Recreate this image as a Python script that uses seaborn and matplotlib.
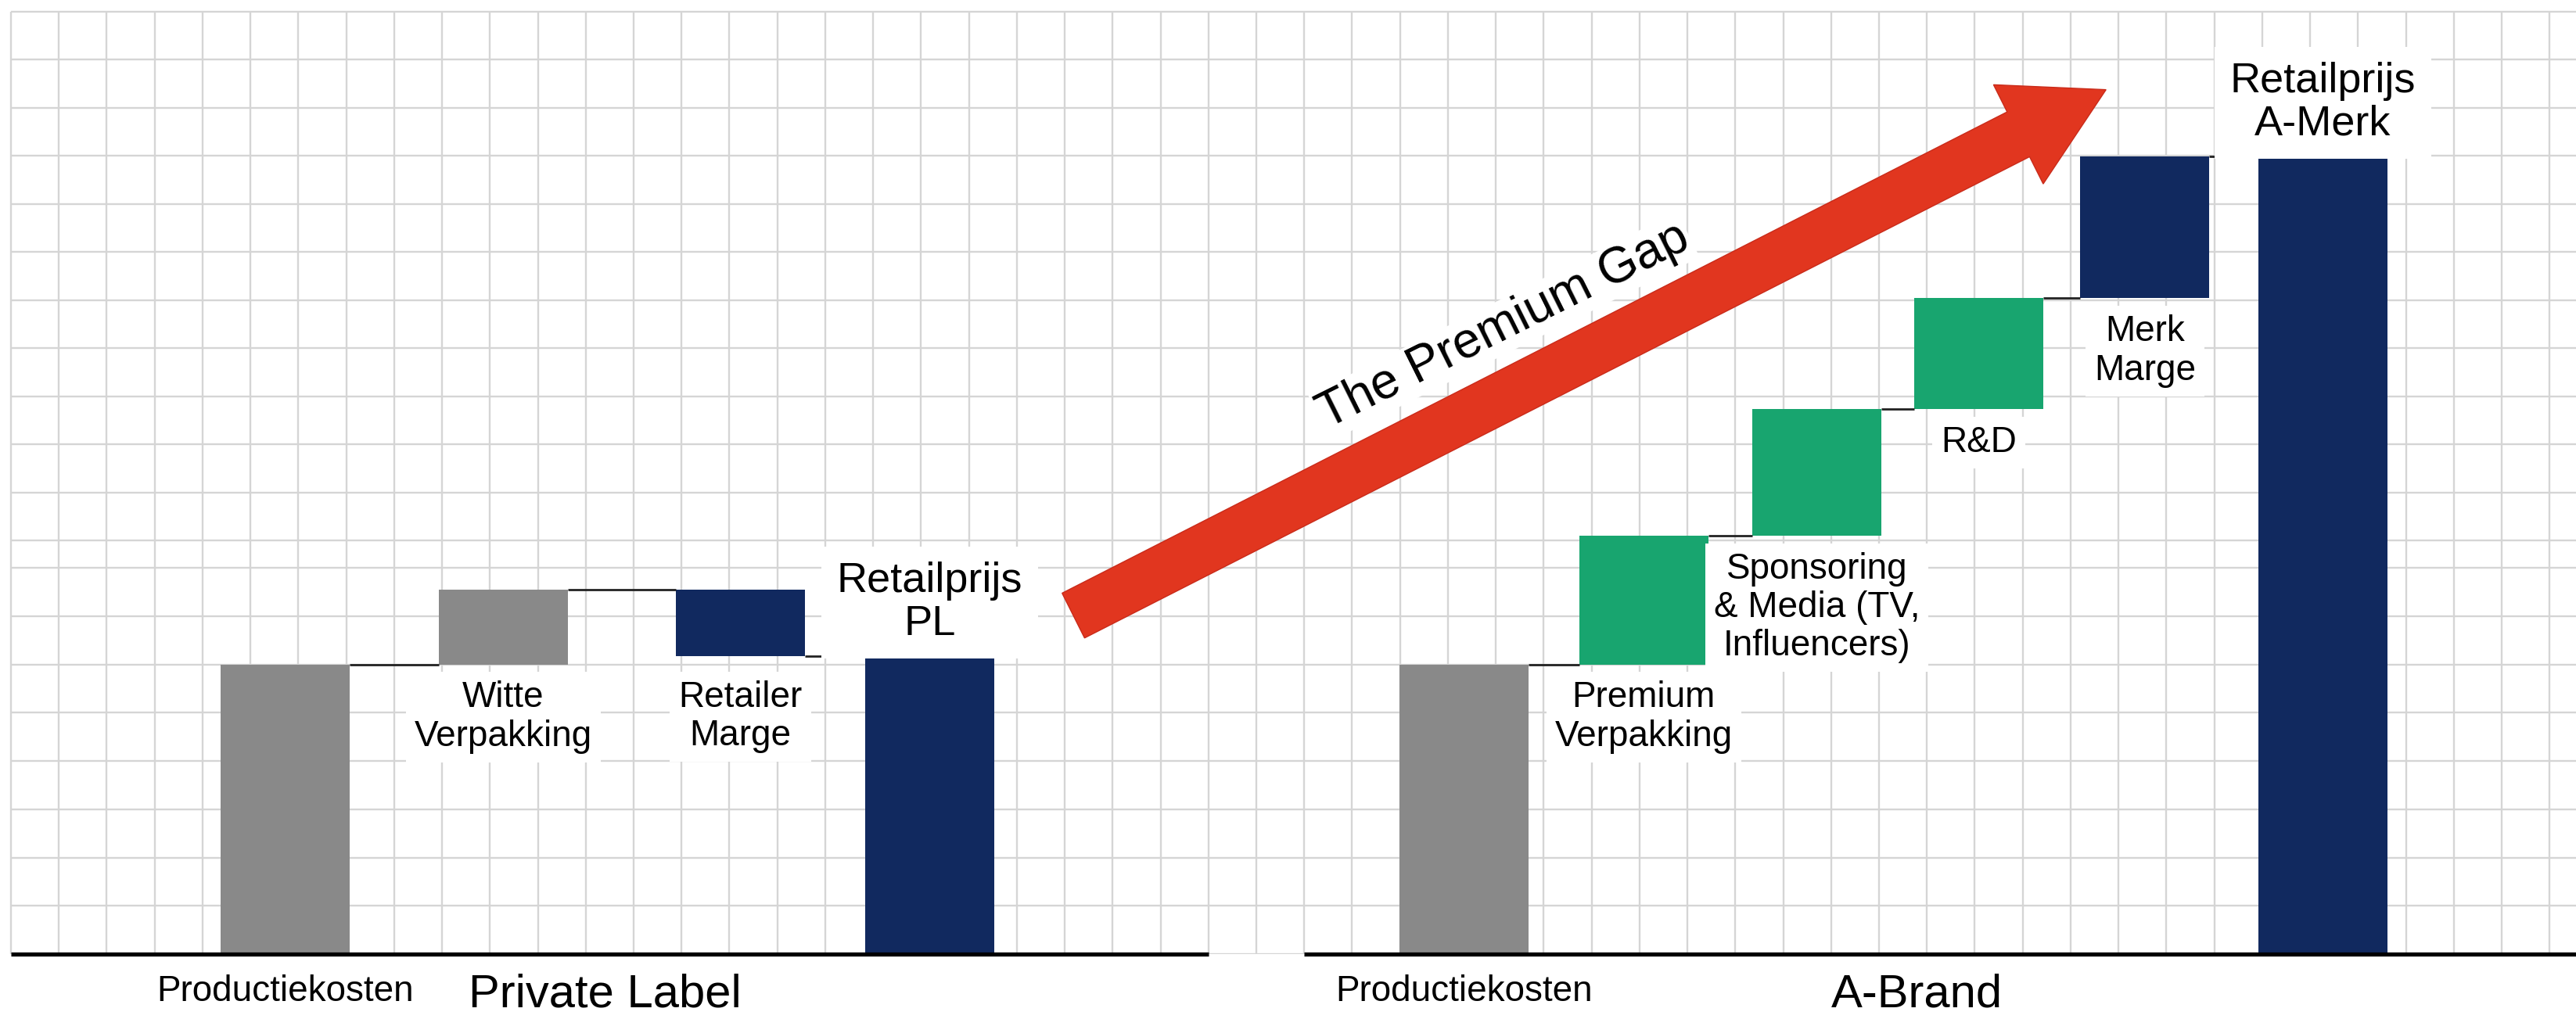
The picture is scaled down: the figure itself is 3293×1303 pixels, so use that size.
import numpy as np
import pandas as pd
import matplotlib
matplotlib.use("Agg")
import matplotlib.pyplot as plt
from matplotlib.patches import FancyArrow
import seaborn as sns

# ---------------------------------------------------------------- data
PL_CATEGORIES = ["Productiekosten", "Witte\nVerpakking", "Retailer\nMarge", "Retailprijs\nPL"]
PL_STEPS = [6.0, 1.54, -1.37]          # increments; the last bar is the running total
PL_KINDS = ["cost", "cost", "margin", "total"]

AB_CATEGORIES = ["Productiekosten", "Premium\nVerpakking",
                 "Sponsoring\n& Media (TV,\nInfluencers)", "R&D",
                 "Merk\nMarge", "Retailprijs\nA-Merk"]
AB_STEPS = [6.0, 2.66, 2.62, 2.30, 2.94]
AB_KINDS = ["cost", "brand", "brand", "brand", "margin", "total"]

GROUP_TITLES = ["Private Label", "A-Brand"]
ARROW_TEXT = "The Premium Gap"

# ---------------------------------------------------------------- layout (grid units)
PL_SLOTS = [5.73, 10.28, 15.23, 19.18]
AB_SLOTS = [30.34, 34.09, 37.70, 41.08, 44.55, 48.27]
TITLE_X = [12.41, 39.79]
BAR_WIDTH = 2.69
BASELINE_SPANS = [(0, 25), (27, 60)]

PALETTE = {"cost": "#898989", "margin": "#11295f", "total": "#11295f", "brand": "#18a56f"}
GRID_COLOR = "#d5d5d5"

W_PX, H_PX = 3293, 1303
X_UNIT, Y_UNIT = 61.23, 61.75          # pixels per grid cell
X0_PX, BASE_PX, TOP_PX = 14, 1220, 14.5

sns.set_theme(style="white")
plt.rcParams["font.family"] = ["Liberation Sans", "DejaVu Sans"]


def waterfall(categories, steps, kinds, slots, group):
    rows, level = [], 0.0
    for cat, step, kind, x in zip(categories[:-1], steps, kinds[:-1], slots[:-1]):
        rows.append(dict(group=group, category=cat, kind=kind, x=x, base=level, size=step))
        level += step
    rows.append(dict(group=group, category=categories[-1], kind=kinds[-1],
                     x=slots[-1], base=0.0, size=level))
    return pd.DataFrame(rows)


df = pd.concat([
    waterfall(PL_CATEGORIES, PL_STEPS, PL_KINDS, PL_SLOTS, GROUP_TITLES[0]),
    waterfall(AB_CATEGORIES, AB_STEPS, AB_KINDS, AB_SLOTS, GROUP_TITLES[1]),
]).sort_values("x").reset_index(drop=True)
df["end"] = df["base"] + df["size"]

fig = plt.figure(figsize=(W_PX / 100, H_PX / 100), dpi=100)
ax = fig.add_axes([0, (H_PX - BASE_PX) / H_PX, 1, BASE_PX / H_PX])
x_lo, x_hi = -X0_PX / X_UNIT, (W_PX - X0_PX) / X_UNIT
y_hi = BASE_PX / Y_UNIT
y_top = (BASE_PX - TOP_PX) / Y_UNIT

# squared paper background
cols = np.arange(0, int(x_hi) + 1)
rows_low = np.arange(0, 9)
rows_high = (BASE_PX - TOP_PX - 61.5 * np.arange(12)) / Y_UNIT
ax.vlines(cols, 0, y_top, color=GRID_COLOR, lw=1.7, zorder=1)
ax.hlines(np.concatenate([rows_low, rows_high]), 0, x_hi + 1, color=GRID_COLOR, lw=1.7, zorder=1)

# floating waterfall bars
min_gap = np.diff(np.sort(df["x"].unique())).min()
sns.barplot(data=df, x="x", y="size", orient="x", native_scale=True, errorbar=None,
            width=BAR_WIDTH / min_gap, bottom=df["base"].to_numpy(),
            color=PALETTE["cost"], linewidth=0, zorder=2, ax=ax)
for patch, kind in zip(ax.patches, df["kind"]):
    patch.set_facecolor(PALETTE[kind])

# connectors between consecutive bars
for _, sub in df.groupby("group", sort=False):
    sub = sub.sort_values("x")
    xs, ends = sub["x"].to_numpy(), sub["end"].to_numpy()
    for i in range(len(sub) - 1):
        ax.hlines(ends[i], xs[i] + BAR_WIDTH / 2, xs[i + 1] - BAR_WIDTH / 2,
                  color="#222222", lw=2.0, zorder=3)

# axis baseline, interrupted between the two groups
for a, b in BASELINE_SPANS:
    ax.hlines(0, a, min(b, x_hi + 1), color="black", lw=3.8, zorder=4, clip_on=False)

# category labels
box = dict(facecolor="white", edgecolor="none", pad=8)
for r in df.itertuples():
    lo, hi = min(r.base, r.end), max(r.base, r.end)
    if r.kind == "total":
        ax.text(r.x, hi + 0.26, r.category, ha="center", va="bottom", fontsize=39,
                linespacing=1.12, color="black", bbox=dict(box, pad=14), zorder=5)
    elif r.base == 0:
        ax.text(r.x, -0.42, r.category, ha="center", va="top", fontsize=33,
                color="black", zorder=5, clip_on=False)
    else:
        top = lo - 0.34 if r.size > 0 else lo - 0.5
        ax.text(r.x, top, r.category, ha="center", va="top", fontsize=33,
                linespacing=1.15, color="black", bbox=box, zorder=5)

for title, tx in zip(GROUP_TITLES, TITLE_X):
    ax.text(tx, -1.10, title, ha="center", va="baseline", fontsize=43, color="black",
            clip_on=False, zorder=5)

# the premium gap arrow
tail = (22.18, 7.01)
tip = (43.74, 17.90)
ax.add_patch(FancyArrow(tail[0], tail[1], tip[0] - tail[0], tip[1] - tail[1],
                        width=1.04, head_width=2.3, head_length=2.05,
                        length_includes_head=True, facecolor="#e1361f",
                        edgecolor="#c92b1a", lw=1.0, zorder=6))
ax.text(31.17, 13.0, ARROW_TEXT, rotation=26.5, rotation_mode="anchor",
        ha="center", va="center", fontsize=46, color="black", zorder=7,
        bbox=dict(facecolor="white", edgecolor="none", pad=2))

ax.set_xlim(x_lo, x_hi)
ax.set_ylim(0, y_hi)
ax.set_xlabel("")
ax.set_ylabel("")
ax.set_xticks([])
ax.set_yticks([])
for s in ax.spines.values():
    s.set_visible(False)
ax.patch.set_alpha(0)

fig.savefig("out.png", dpi=100, facecolor="white")
